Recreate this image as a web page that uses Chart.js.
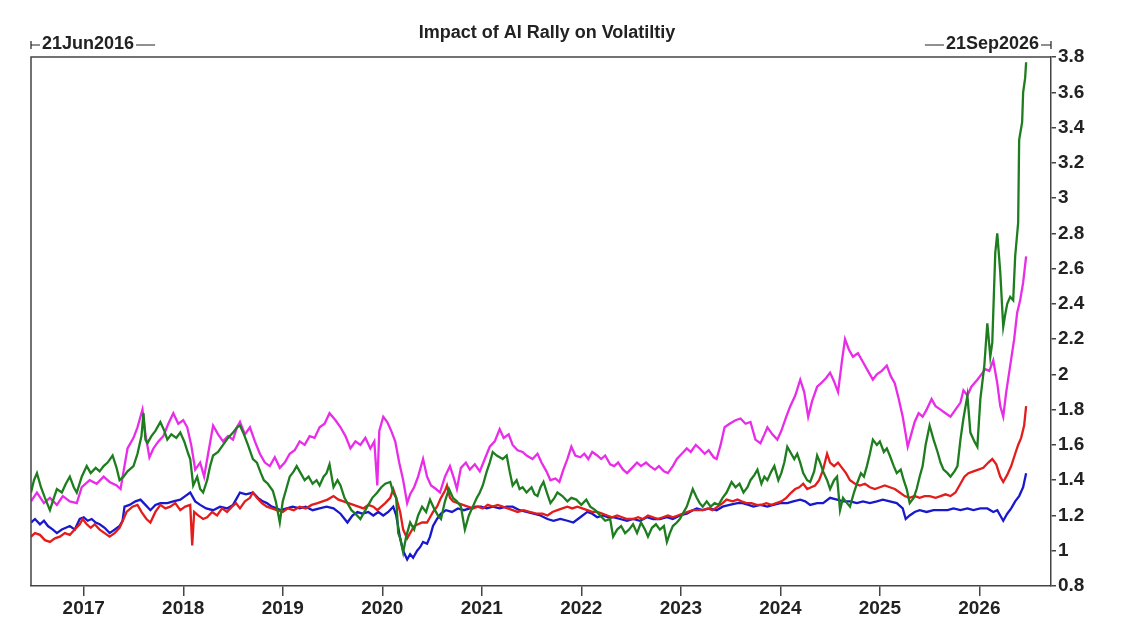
<!DOCTYPE html>
<html>
<head>
<meta charset="utf-8">
<title>Impact of AI Rally on Volatiltiy</title>
<script src="https://cdn.jsdelivr.net/npm/chart.js@4.4.1/dist/chart.umd.min.js"></script>
<style>
  html, body { margin: 0; padding: 0; background: #fff; }
  #wrap { width: 1122px; height: 622px; }
</style>
</head>
<body>
<div id="wrap"><canvas id="vol-chart" width="1122" height="622"></canvas></div>
<script>
// axis range (decimal years) and ticks
const startLabel = "21Jun2016";
const endLabel = "21Sep2026";
const xMin = 2016.47;
const xMax = 2026.72;
const yearTicks = [2017, 2018, 2019, 2020, 2021, 2022, 2023, 2024, 2025, 2026];
const yTicks = [0.8, 1, 1.2, 1.4, 1.6, 1.8, 2, 2.2, 2.4, 2.6, 2.8, 3, 3.2, 3.4, 3.6, 3.8];

// magenta series
const magentaDates = [2016.47,2016.53,2016.60,2016.66,2016.73,2016.79,2016.86,2016.93,2016.98,2017.06,2017.13,2017.20,2017.26,2017.33,2017.37,2017.40,2017.44,2017.50,2017.54,2017.59,2017.62,2017.66,2017.70,2017.75,2017.80,2017.85,2017.90,2017.95,2018.00,2018.04,2018.08,2018.12,2018.17,2018.21,2018.25,2018.30,2018.35,2018.40,2018.45,2018.50,2018.54,2018.57,2018.62,2018.67,2018.72,2018.77,2018.82,2018.87,2018.92,2018.97,2019.02,2019.07,2019.12,2019.17,2019.22,2019.27,2019.32,2019.37,2019.42,2019.47,2019.53,2019.58,2019.63,2019.68,2019.73,2019.78,2019.83,2019.88,2019.92,2019.95,2019.97,2020.01,2020.05,2020.09,2020.13,2020.17,2020.21,2020.25,2020.28,2020.32,2020.36,2020.41,2020.45,2020.49,2020.54,2020.58,2020.63,2020.68,2020.72,2020.75,2020.79,2020.84,2020.88,2020.93,2020.98,2021.03,2021.08,2021.13,2021.18,2021.22,2021.27,2021.31,2021.36,2021.41,2021.45,2021.51,2021.56,2021.60,2021.65,2021.69,2021.74,2021.78,2021.82,2021.86,2021.90,2021.94,2021.99,2022.03,2022.07,2022.11,2022.16,2022.20,2022.24,2022.29,2022.33,2022.37,2022.42,2022.46,2022.51,2022.56,2022.60,2022.65,2022.69,2022.74,2022.78,2022.83,2022.87,2022.92,2022.96,2023.01,2023.06,2023.10,2023.15,2023.19,2023.24,2023.28,2023.33,2023.36,2023.40,2023.44,2023.49,2023.55,2023.60,2023.65,2023.70,2023.75,2023.80,2023.84,2023.87,2023.92,2023.97,2024.01,2024.06,2024.10,2024.15,2024.20,2024.24,2024.28,2024.32,2024.37,2024.41,2024.46,2024.50,2024.54,2024.58,2024.62,2024.65,2024.69,2024.73,2024.78,2024.83,2024.88,2024.93,2024.97,2025.02,2025.07,2025.11,2025.15,2025.19,2025.23,2025.26,2025.28,2025.31,2025.35,2025.39,2025.43,2025.47,2025.52,2025.56,2025.61,2025.66,2025.71,2025.76,2025.81,2025.84,2025.88,2025.92,2025.98,2026.02,2026.06,2026.10,2026.14,2026.18,2026.21,2026.24,2026.27,2026.31,2026.35,2026.38,2026.41,2026.44,2026.47];
const magentaVals = [1.28,1.33,1.27,1.30,1.26,1.31,1.28,1.27,1.36,1.40,1.38,1.42,1.39,1.37,1.35,1.45,1.58,1.64,1.70,1.80,1.66,1.53,1.58,1.62,1.65,1.72,1.78,1.72,1.74,1.70,1.60,1.46,1.50,1.42,1.55,1.71,1.66,1.62,1.65,1.63,1.70,1.73,1.66,1.70,1.62,1.55,1.50,1.48,1.53,1.47,1.50,1.55,1.57,1.62,1.60,1.65,1.64,1.70,1.72,1.78,1.74,1.70,1.65,1.58,1.62,1.60,1.64,1.58,1.62,1.37,1.68,1.76,1.73,1.68,1.62,1.50,1.40,1.27,1.32,1.36,1.42,1.52,1.42,1.37,1.35,1.33,1.42,1.48,1.41,1.35,1.47,1.50,1.46,1.49,1.45,1.52,1.59,1.62,1.69,1.64,1.66,1.60,1.57,1.56,1.54,1.52,1.55,1.50,1.45,1.40,1.41,1.39,1.46,1.52,1.59,1.54,1.53,1.55,1.52,1.56,1.54,1.52,1.54,1.49,1.48,1.50,1.46,1.44,1.47,1.50,1.48,1.50,1.48,1.46,1.48,1.45,1.44,1.48,1.52,1.55,1.58,1.56,1.60,1.58,1.55,1.57,1.53,1.52,1.60,1.70,1.72,1.74,1.75,1.72,1.73,1.63,1.61,1.66,1.70,1.66,1.63,1.68,1.76,1.82,1.88,1.97,1.90,1.76,1.85,1.93,1.95,1.98,2.01,1.96,1.90,2.08,2.20,2.14,2.10,2.12,2.07,2.02,1.97,2.00,2.02,2.05,1.99,1.95,1.86,1.76,1.66,1.59,1.65,1.73,1.78,1.76,1.80,1.86,1.82,1.80,1.78,1.76,1.80,1.84,1.91,1.88,1.93,1.97,2.00,2.03,2.02,2.08,1.95,1.82,1.76,1.90,2.05,2.20,2.35,2.42,2.52,2.67];

// green series
const greenDates = [2016.47,2016.50,2016.53,2016.57,2016.61,2016.66,2016.70,2016.73,2016.78,2016.82,2016.86,2016.90,2016.93,2016.98,2017.03,2017.07,2017.12,2017.16,2017.20,2017.24,2017.29,2017.33,2017.36,2017.40,2017.44,2017.50,2017.54,2017.58,2017.60,2017.62,2017.64,2017.68,2017.72,2017.77,2017.81,2017.84,2017.88,2017.93,2017.97,2018.01,2018.05,2018.07,2018.10,2018.14,2018.17,2018.20,2018.24,2018.27,2018.30,2018.35,2018.40,2018.45,2018.50,2018.54,2018.57,2018.61,2018.65,2018.70,2018.74,2018.78,2018.81,2018.85,2018.90,2018.93,2018.97,2019.00,2019.04,2019.07,2019.11,2019.14,2019.18,2019.22,2019.26,2019.30,2019.34,2019.37,2019.41,2019.44,2019.47,2019.51,2019.55,2019.58,2019.62,2019.66,2019.69,2019.73,2019.78,2019.82,2019.86,2019.90,2019.95,2019.99,2020.03,2020.08,2020.11,2020.14,2020.16,2020.18,2020.21,2020.24,2020.28,2020.32,2020.36,2020.40,2020.44,2020.48,2020.52,2020.56,2020.59,2020.63,2020.67,2020.71,2020.75,2020.79,2020.83,2020.87,2020.91,2020.95,2020.98,2021.01,2021.05,2021.08,2021.11,2021.15,2021.18,2021.21,2021.25,2021.28,2021.31,2021.35,2021.38,2021.41,2021.45,2021.50,2021.53,2021.56,2021.59,2021.62,2021.66,2021.69,2021.73,2021.76,2021.81,2021.86,2021.90,2021.95,2022.00,2022.05,2022.09,2022.14,2022.19,2022.24,2022.29,2022.32,2022.36,2022.40,2022.44,2022.48,2022.52,2022.56,2022.60,2022.64,2022.67,2022.71,2022.75,2022.79,2022.83,2022.86,2022.89,2022.92,2022.96,2022.99,2023.03,2023.06,2023.09,2023.12,2023.16,2023.19,2023.22,2023.26,2023.30,2023.34,2023.38,2023.42,2023.46,2023.51,2023.55,2023.59,2023.63,2023.67,2023.70,2023.74,2023.77,2023.81,2023.84,2023.87,2023.91,2023.94,2023.98,2024.01,2024.04,2024.07,2024.10,2024.14,2024.17,2024.20,2024.23,2024.27,2024.30,2024.34,2024.37,2024.40,2024.43,2024.47,2024.50,2024.54,2024.57,2024.60,2024.63,2024.67,2024.70,2024.74,2024.77,2024.81,2024.84,2024.87,2024.90,2024.93,2024.97,2025.00,2025.04,2025.07,2025.10,2025.14,2025.17,2025.21,2025.24,2025.27,2025.30,2025.34,2025.37,2025.40,2025.43,2025.46,2025.50,2025.54,2025.58,2025.61,2025.64,2025.68,2025.71,2025.75,2025.78,2025.81,2025.84,2025.88,2025.91,2025.95,2025.98,2026.01,2026.05,2026.08,2026.11,2026.13,2026.16,2026.18,2026.21,2026.24,2026.26,2026.28,2026.31,2026.34,2026.36,2026.39,2026.40,2026.43,2026.44,2026.46,2026.47];
const greenVals = [1.33,1.40,1.44,1.36,1.30,1.23,1.30,1.35,1.33,1.38,1.42,1.36,1.33,1.42,1.48,1.44,1.47,1.45,1.48,1.50,1.54,1.47,1.40,1.42,1.45,1.48,1.55,1.65,1.78,1.63,1.61,1.65,1.68,1.73,1.68,1.63,1.66,1.64,1.67,1.62,1.55,1.52,1.37,1.42,1.35,1.33,1.40,1.48,1.54,1.56,1.60,1.64,1.67,1.70,1.71,1.66,1.60,1.52,1.50,1.44,1.40,1.38,1.34,1.28,1.16,1.28,1.36,1.42,1.45,1.48,1.44,1.40,1.42,1.38,1.40,1.37,1.42,1.44,1.49,1.36,1.40,1.37,1.30,1.26,1.23,1.21,1.18,1.22,1.26,1.30,1.33,1.36,1.38,1.39,1.33,1.30,1.10,1.07,0.99,1.08,1.16,1.12,1.20,1.25,1.22,1.29,1.24,1.20,1.18,1.28,1.35,1.30,1.28,1.25,1.12,1.20,1.25,1.30,1.33,1.37,1.45,1.50,1.56,1.54,1.53,1.52,1.54,1.45,1.37,1.40,1.35,1.36,1.33,1.36,1.32,1.31,1.36,1.39,1.32,1.27,1.30,1.33,1.31,1.28,1.30,1.29,1.26,1.29,1.25,1.23,1.20,1.17,1.18,1.08,1.12,1.14,1.10,1.12,1.15,1.10,1.16,1.12,1.08,1.13,1.15,1.12,1.14,1.05,1.10,1.14,1.16,1.18,1.22,1.25,1.30,1.35,1.30,1.27,1.25,1.28,1.25,1.27,1.26,1.30,1.33,1.39,1.36,1.38,1.33,1.36,1.40,1.43,1.46,1.38,1.42,1.40,1.45,1.48,1.40,1.44,1.50,1.59,1.56,1.52,1.55,1.50,1.44,1.40,1.39,1.45,1.54,1.50,1.45,1.40,1.35,1.40,1.42,1.23,1.30,1.27,1.25,1.33,1.38,1.44,1.42,1.48,1.55,1.63,1.60,1.62,1.56,1.58,1.54,1.48,1.44,1.46,1.40,1.35,1.27,1.30,1.35,1.42,1.48,1.60,1.71,1.63,1.56,1.50,1.46,1.44,1.42,1.45,1.48,1.63,1.75,1.88,1.67,1.62,1.59,1.86,2.05,2.29,2.10,2.18,2.69,2.80,2.58,2.27,2.34,2.40,2.44,2.42,2.67,2.86,3.33,3.43,3.60,3.68,3.77];

// red series
const redDates = [2016.47,2016.51,2016.56,2016.61,2016.66,2016.71,2016.76,2016.81,2016.86,2016.91,2016.96,2016.99,2017.03,2017.07,2017.11,2017.16,2017.21,2017.26,2017.31,2017.36,2017.40,2017.43,2017.49,2017.54,2017.58,2017.63,2017.67,2017.72,2017.77,2017.82,2017.87,2017.92,2017.97,2018.02,2018.07,2018.09,2018.11,2018.15,2018.20,2018.24,2018.29,2018.34,2018.39,2018.44,2018.49,2018.53,2018.57,2018.62,2018.67,2018.70,2018.74,2018.79,2018.84,2018.89,2018.94,2019.00,2019.05,2019.11,2019.17,2019.23,2019.29,2019.35,2019.40,2019.45,2019.51,2019.56,2019.61,2019.66,2019.71,2019.76,2019.81,2019.86,2019.91,2019.95,2019.99,2020.03,2020.08,2020.11,2020.14,2020.18,2020.21,2020.25,2020.28,2020.32,2020.36,2020.40,2020.45,2020.48,2020.51,2020.55,2020.59,2020.63,2020.65,2020.68,2020.71,2020.76,2020.81,2020.86,2020.91,2020.96,2021.01,2021.06,2021.11,2021.16,2021.21,2021.26,2021.31,2021.36,2021.42,2021.48,2021.55,2021.61,2021.66,2021.71,2021.76,2021.81,2021.86,2021.91,2021.96,2022.01,2022.06,2022.11,2022.16,2022.21,2022.26,2022.31,2022.36,2022.41,2022.46,2022.52,2022.57,2022.62,2022.67,2022.72,2022.77,2022.82,2022.87,2022.92,2022.97,2023.02,2023.07,2023.12,2023.17,2023.22,2023.27,2023.32,2023.37,2023.42,2023.46,2023.52,2023.57,2023.61,2023.66,2023.71,2023.76,2023.81,2023.86,2023.91,2023.96,2024.01,2024.06,2024.11,2024.15,2024.19,2024.23,2024.27,2024.31,2024.35,2024.39,2024.43,2024.47,2024.50,2024.54,2024.58,2024.62,2024.66,2024.70,2024.75,2024.80,2024.85,2024.90,2024.95,2025.00,2025.05,2025.10,2025.15,2025.20,2025.25,2025.30,2025.35,2025.40,2025.45,2025.50,2025.56,2025.61,2025.66,2025.71,2025.76,2025.81,2025.85,2025.89,2025.94,2025.99,2026.04,2026.09,2026.13,2026.17,2026.21,2026.24,2026.28,2026.32,2026.36,2026.39,2026.42,2026.45,2026.47];
const redVals = [1.08,1.10,1.09,1.06,1.05,1.07,1.08,1.10,1.09,1.12,1.15,1.18,1.15,1.13,1.15,1.12,1.10,1.08,1.10,1.13,1.18,1.22,1.25,1.26,1.22,1.18,1.16,1.22,1.26,1.24,1.25,1.27,1.23,1.25,1.26,1.03,1.22,1.20,1.18,1.19,1.22,1.20,1.24,1.22,1.25,1.27,1.24,1.28,1.30,1.33,1.30,1.27,1.25,1.24,1.23,1.22,1.24,1.23,1.25,1.24,1.26,1.27,1.28,1.29,1.31,1.29,1.28,1.27,1.26,1.25,1.24,1.26,1.25,1.23,1.25,1.27,1.30,1.35,1.30,1.22,1.12,1.07,1.10,1.14,1.15,1.16,1.16,1.19,1.22,1.25,1.30,1.34,1.37,1.30,1.28,1.27,1.26,1.25,1.24,1.25,1.24,1.26,1.25,1.26,1.25,1.24,1.23,1.22,1.23,1.22,1.21,1.21,1.20,1.22,1.23,1.24,1.25,1.24,1.25,1.24,1.23,1.22,1.22,1.21,1.20,1.19,1.20,1.19,1.18,1.18,1.19,1.18,1.20,1.19,1.18,1.19,1.20,1.19,1.20,1.21,1.22,1.23,1.23,1.23,1.24,1.23,1.25,1.27,1.29,1.28,1.29,1.28,1.27,1.27,1.26,1.26,1.27,1.26,1.27,1.28,1.30,1.33,1.35,1.36,1.38,1.35,1.36,1.37,1.40,1.46,1.55,1.50,1.48,1.50,1.47,1.44,1.40,1.38,1.37,1.38,1.36,1.35,1.36,1.37,1.36,1.35,1.33,1.31,1.30,1.31,1.30,1.31,1.31,1.30,1.31,1.32,1.31,1.33,1.38,1.42,1.44,1.45,1.46,1.47,1.50,1.52,1.49,1.42,1.39,1.43,1.48,1.55,1.60,1.64,1.71,1.82];

// blue series
const blueDates = [2016.47,2016.51,2016.56,2016.60,2016.64,2016.69,2016.73,2016.78,2016.82,2016.86,2016.91,2016.96,2017.00,2017.04,2017.08,2017.12,2017.16,2017.21,2017.26,2017.31,2017.36,2017.39,2017.41,2017.46,2017.52,2017.57,2017.62,2017.67,2017.72,2017.77,2017.84,2017.90,2017.97,2018.02,2018.07,2018.12,2018.17,2018.23,2018.30,2018.37,2018.44,2018.50,2018.54,2018.57,2018.63,2018.70,2018.75,2018.80,2018.84,2018.89,2018.94,2018.98,2019.04,2019.10,2019.17,2019.23,2019.30,2019.37,2019.44,2019.51,2019.58,2019.65,2019.70,2019.75,2019.80,2019.86,2019.91,2019.96,2020.01,2020.06,2020.11,2020.14,2020.18,2020.21,2020.25,2020.28,2020.31,2020.35,2020.38,2020.41,2020.45,2020.48,2020.51,2020.55,2020.59,2020.64,2020.70,2020.76,2020.82,2020.88,2020.94,2020.99,2021.05,2021.11,2021.18,2021.25,2021.31,2021.38,2021.45,2021.52,2021.59,2021.66,2021.72,2021.79,2021.86,2021.92,2021.99,2022.06,2022.11,2022.16,2022.22,2022.27,2022.32,2022.39,2022.46,2022.52,2022.59,2022.66,2022.72,2022.79,2022.86,2022.92,2022.99,2023.06,2023.12,2023.16,2023.22,2023.29,2023.36,2023.42,2023.49,2023.57,2023.62,2023.68,2023.73,2023.80,2023.87,2023.93,2024.00,2024.07,2024.13,2024.20,2024.25,2024.30,2024.37,2024.43,2024.50,2024.57,2024.63,2024.70,2024.77,2024.83,2024.90,2024.97,2025.03,2025.10,2025.17,2025.23,2025.26,2025.30,2025.35,2025.40,2025.47,2025.54,2025.61,2025.68,2025.74,2025.81,2025.88,2025.94,2026.01,2026.08,2026.14,2026.18,2026.21,2026.24,2026.28,2026.32,2026.36,2026.40,2026.44,2026.47];
const blueVals = [1.16,1.18,1.15,1.17,1.14,1.12,1.10,1.12,1.13,1.14,1.12,1.18,1.19,1.17,1.18,1.16,1.15,1.13,1.10,1.12,1.14,1.17,1.25,1.26,1.28,1.29,1.26,1.23,1.26,1.27,1.27,1.28,1.29,1.31,1.33,1.28,1.26,1.24,1.23,1.25,1.24,1.26,1.30,1.33,1.32,1.33,1.30,1.28,1.27,1.25,1.24,1.23,1.24,1.25,1.24,1.25,1.23,1.24,1.25,1.24,1.21,1.16,1.20,1.22,1.21,1.22,1.20,1.22,1.20,1.22,1.25,1.20,1.07,1.00,0.95,0.98,0.96,1.00,1.02,1.05,1.04,1.08,1.14,1.18,1.21,1.23,1.22,1.24,1.23,1.24,1.25,1.25,1.24,1.25,1.24,1.25,1.25,1.23,1.22,1.21,1.20,1.18,1.17,1.18,1.17,1.16,1.19,1.22,1.21,1.19,1.20,1.19,1.19,1.18,1.17,1.18,1.17,1.19,1.18,1.18,1.19,1.18,1.20,1.21,1.23,1.24,1.23,1.24,1.23,1.25,1.26,1.27,1.27,1.26,1.25,1.26,1.25,1.26,1.27,1.27,1.28,1.29,1.28,1.26,1.27,1.27,1.30,1.29,1.28,1.28,1.27,1.28,1.27,1.28,1.29,1.28,1.27,1.24,1.18,1.20,1.22,1.23,1.22,1.23,1.23,1.23,1.24,1.23,1.24,1.23,1.24,1.24,1.22,1.23,1.20,1.17,1.21,1.24,1.28,1.31,1.36,1.44];

const FONT = '"Liberation Sans", Arial, sans-serif';
const INK = "#222";

function toPoints(dates, vals) {
  return dates.map((d, i) => ({ x: d, y: vals[i] }));
}

// box, title and the start/end date markers
const framePlugin = {
  id: "frame",
  afterDraw(chart) {
    const { ctx, chartArea: a } = chart;
    ctx.save();
    ctx.strokeStyle = "#444";
    ctx.lineWidth = 1.5;
    ctx.beginPath();
    ctx.moveTo(a.left, a.bottom);
    ctx.lineTo(a.left, a.top);
    ctx.lineTo(a.right, a.top);
    ctx.stroke();

    ctx.fillStyle = INK;
    ctx.font = "bold 18px " + FONT;
    ctx.textBaseline = "middle";
    ctx.textAlign = "center";
    ctx.fillText("Impact of AI Rally on Volatiltiy", 547, 33);

    const y = 45;
    ctx.lineWidth = 1.2;
    ctx.strokeStyle = INK;
    // left marker
    const lw = ctx.measureText(startLabel).width;
    ctx.textAlign = "left";
    ctx.fillText(startLabel, a.left + 11, y - 1);
    ctx.beginPath();
    ctx.moveTo(a.left, y - 4); ctx.lineTo(a.left, y + 4);
    ctx.moveTo(a.left, y); ctx.lineTo(a.left + 9, y);
    ctx.moveTo(a.left + 13 + lw, y); ctx.lineTo(a.left + 32 + lw, y);
    ctx.stroke();
    // right marker
    const rw = ctx.measureText(endLabel).width;
    ctx.textAlign = "right";
    ctx.fillText(endLabel, a.right - 12, y - 1);
    ctx.beginPath();
    ctx.moveTo(a.right, y - 4); ctx.lineTo(a.right, y + 4);
    ctx.moveTo(a.right, y); ctx.lineTo(a.right - 10, y);
    ctx.moveTo(a.right - 14 - rw, y); ctx.lineTo(a.right - 33 - rw, y);
    ctx.stroke();
    ctx.restore();
  }
};

const config = {
  type: "line",
  data: {
    datasets: [
      { label: "Green", data: toPoints(greenDates, greenVals), borderColor: "#1e7d1e" },
      { label: "Magenta", data: toPoints(magentaDates, magentaVals), borderColor: "#e82ce8" },
      { label: "Red", data: toPoints(redDates, redVals), borderColor: "#e31c1c" },
      { label: "Blue", data: toPoints(blueDates, blueVals), borderColor: "#1818cc" },
    ],
  },
  options: {
    responsive: false,
    animation: false,
    devicePixelRatio: 1,
    layout: { padding: { top: 57, left: 31, right: 0, bottom: 0 } },
    elements: {
      line: { borderWidth: 2.3, tension: 0, fill: false },
      point: { radius: 0 },
    },
    plugins: {
      legend: { display: false },
      tooltip: { enabled: false },
      title: { display: false },
    },
    scales: {
      x: {
        type: "linear",
        min: xMin,
        max: xMax,
        afterBuildTicks: (s) => { s.ticks = yearTicks.map((v) => ({ value: v })); },
        afterFit: (s) => { s.height = 36; },
        ticks: {
          callback: (v) => String(v),
          color: INK,
          font: { family: FONT, size: 19, weight: "bold" },
          padding: 1,
          maxRotation: 0,
          autoSkip: false,
        },
        grid: { drawOnChartArea: false, drawTicks: true, tickLength: 10, color: "#444", lineWidth: 1.5 },
        border: { display: true, color: "#444", width: 1.5 },
      },
      y: {
        position: "right",
        min: 0.8,
        max: 3.8,
        afterBuildTicks: (s) => { s.ticks = yTicks.map((v) => ({ value: v })); },
        afterFit: (s) => { s.width = 71; },
        ticks: {
          callback: (v) => String(+v.toFixed(1)),
          color: INK,
          font: { family: FONT, size: 19, weight: "bold" },
          padding: 2,
        },
        grid: { drawOnChartArea: false, drawTicks: true, tickLength: 5, color: "#444", lineWidth: 1.5 },
        border: { display: true, color: "#444", width: 1.5 },
      },
    },
  },
  plugins: [framePlugin],
};

const ctx = document.getElementById("vol-chart").getContext("2d");
window.volChart = new Chart(ctx, config);
</script>
</body>
</html>
